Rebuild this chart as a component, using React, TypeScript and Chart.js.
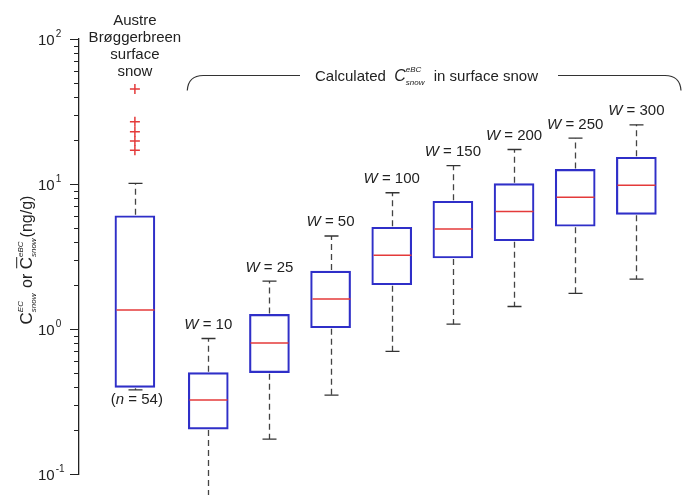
import React, { useEffect, useRef } from "react";
import { Chart, registerables } from "chart.js";

Chart.register(...registerables);

// ---- data ----
const wValues = [10, 25, 50, 100, 150, 200, 250, 300];
const xPositions = [0, 1.2, 2.2, 3.2, 4.2, 5.2, 6.2, 7.2, 8.2];
const whiskerLow = [0.38, 0.07, 0.174, 0.35, 0.7, 1.08, 1.43, 1.76, 2.21];
const q1 = [0.396, 0.204, 0.5, 1.02, 2.02, 3.09, 4.06, 5.11, 6.18];
const median = [1.35, 0.324, 0.8, 1.61, 3.22, 4.9, 6.47, 8.1, 9.8];
const q3 = [6.04, 0.5, 1.26, 2.51, 5.03, 7.6, 10.05, 12.6, 15.3];
const whiskerHigh = [10.1, 0.86, 2.14, 4.38, 8.7, 13.4, 17.3, 20.7, 25.6];
const outliers = [45.2, 26.9, 22.9, 19.8, 17.1];
const yMajorTicks = [0.1, 1, 10, 100];
const yTickExponents = ["-1", "0", "1", "2"];
const sampleLabelLines = ["Austre", "Brøggerbreen", "surface", "snow"];
const sampleCount = 54;

const X_MIN = -0.914;
const X_MAX = 8.84;

const FONT = '"Liberation Sans", Arial, Helvetica, sans-serif';
const TEXT = "#222";
const BOX = "#2f2fc8";
const RED = "#e43a3a";
const WHISK = "#444";

type Part = { text?: string; size: number; italic?: boolean; sup?: string; sub?: string; over?: boolean };

const fnt = (size: number, italic?: boolean) => `${italic ? "italic " : ""}${size}px ${FONT}`;

function partWidth(ctx: CanvasRenderingContext2D, p: Part) {
  if (p.sup !== undefined) {
    ctx.font = fnt(p.size, true);
    return Math.max(ctx.measureText(p.sup).width, ctx.measureText(p.sub || "").width) + 1;
  }
  ctx.font = fnt(p.size, p.italic);
  return ctx.measureText(p.text || "").width;
}

function drawParts(ctx: CanvasRenderingContext2D, parts: Part[], x: number, baseline: number, align: "left" | "center", supUp = 9, subDown = 4) {
  const total = parts.reduce((s, p) => s + partWidth(ctx, p), 0);
  let cx = align === "center" ? x - total / 2 : x;
  ctx.textAlign = "left";
  ctx.textBaseline = "alphabetic";
  ctx.fillStyle = TEXT;
  for (const p of parts) {
    const w = partWidth(ctx, p);
    if (p.sup !== undefined) {
      ctx.font = fnt(p.size, true);
      ctx.fillText(p.sup, cx, baseline - supUp);
      ctx.fillText(p.sub || "", cx, baseline + subDown);
    } else {
      ctx.font = fnt(p.size, p.italic);
      ctx.fillText(p.text || "", cx, baseline);
      if (p.over) {
        ctx.save();
        ctx.strokeStyle = TEXT;
        ctx.lineWidth = 1;
        ctx.beginPath();
        const yy = baseline - p.size * 0.9;
        ctx.moveTo(cx + 1, yy);
        ctx.lineTo(cx + w, yy);
        ctx.stroke();
        ctx.restore();
      }
    }
    cx += w;
  }
}

const boxPlugin = {
  id: "boxExtras",
  afterDatasetsDraw(chart: any) {
    const ctx: CanvasRenderingContext2D = chart.ctx;
    const xs = chart.scales.x;
    const ys = chart.scales.y;
    ctx.save();
    for (let i = 0; i < xPositions.length; i++) {
      const x = Math.round(xs.getPixelForValue(xPositions[i])) + 0.5;
      const yHi = ys.getPixelForValue(whiskerHigh[i]);
      const yQ3 = ys.getPixelForValue(q3[i]);
      const yQ1 = ys.getPixelForValue(q1[i]);
      const yLo = ys.getPixelForValue(whiskerLow[i]);
      const yMed = ys.getPixelForValue(median[i]);
      // dashed whiskers
      ctx.strokeStyle = WHISK;
      ctx.lineWidth = 1.3;
      ctx.setLineDash([6, 4]);
      ctx.beginPath();
      ctx.moveTo(x, yQ3 - 1);
      ctx.lineTo(x, yHi);
      ctx.moveTo(x, yQ1 + 1);
      ctx.lineTo(x, yLo);
      ctx.stroke();
      ctx.setLineDash([]);
      // caps
      ctx.strokeStyle = "#333";
      ctx.beginPath();
      ctx.moveTo(x - 7, yHi);
      ctx.lineTo(x + 7, yHi);
      ctx.moveTo(x - 7, yLo);
      ctx.lineTo(x + 7, yLo);
      ctx.stroke();
      // median
      ctx.strokeStyle = RED;
      ctx.lineWidth = 1.5;
      ctx.beginPath();
      ctx.moveTo(x - 19, yMed);
      ctx.lineTo(x + 19, yMed);
      ctx.stroke();
    }
    ctx.restore();
  },
  afterDraw(chart: any) {
    const ctx: CanvasRenderingContext2D = chart.ctx;
    const xs = chart.scales.x;
    const ys = chart.scales.y;
    const axisX = chart.chartArea.left;
    ctx.save();
    // y ticks
    ctx.strokeStyle = "#222";
    ctx.lineWidth = 1.2;
    ctx.beginPath();
    for (let d = 0; d < yMajorTicks.length; d++) {
      const base = yMajorTicks[d];
      const y = Math.round(ys.getPixelForValue(base)) + 0.5;
      ctx.moveTo(axisX - 9, y);
      ctx.lineTo(axisX, y);
      if (d < yMajorTicks.length - 1) {
        for (let m = 2; m <= 9; m++) {
          const ym = Math.round(ys.getPixelForValue(base * m)) + 0.5;
          ctx.moveTo(axisX - 5, ym);
          ctx.lineTo(axisX, ym);
        }
      }
    }
    ctx.stroke();
    // y tick labels
    ctx.fillStyle = TEXT;
    ctx.textBaseline = "alphabetic";
    ctx.textAlign = "left";
    for (let d = 0; d < yMajorTicks.length; d++) {
      const y = ys.getPixelForValue(yMajorTicks[d]);
      ctx.font = fnt(15);
      ctx.fillText("10", 38, y + 5.5);
      const w = ctx.measureText("10").width;
      ctx.font = fnt(10);
      ctx.fillText(yTickExponents[d], 38 + w + 1, y - 2);
    }
    // y title (rotated)
    ctx.save();
    ctx.translate(26, 260);
    ctx.rotate(-Math.PI / 2);
    drawParts(
      ctx,
      [
        { text: "C", size: 17 },
        { sup: "EC", sub: "snow", size: 8 },
        { text: " or ", size: 16 },
        { text: "C", size: 17, over: true },
        { sup: "eBC", sub: "snow", size: 8 },
        { text: "(ng/g)", size: 16 },
      ],
      0,
      6,
      "center",
      9,
      4
    );
    ctx.restore();

    // sample label
    const x0 = xs.getPixelForValue(xPositions[0]);
    ctx.fillStyle = TEXT;
    ctx.font = fnt(15);
    ctx.textAlign = "center";
    ctx.textBaseline = "middle";
    sampleLabelLines.forEach((t, i) => ctx.fillText(t, x0, 21 + i * 17));
    drawParts(
      ctx,
      [
        { text: "(", size: 15 },
        { text: "n", size: 15, italic: true },
        { text: " = " + sampleCount + ")", size: 15 },
      ],
      x0 + 2,
      404,
      "center"
    );

    // W labels
    for (let i = 0; i < wValues.length; i++) {
      const xi = xs.getPixelForValue(xPositions[i + 1]);
      const yi = ys.getPixelForValue(whiskerHigh[i + 1]) - 15;
      drawParts(
        ctx,
        [
          { text: "W", size: 15, italic: true },
          { text: " = " + wValues[i], size: 15 },
        ],
        xi,
        yi + 5.5,
        "center"
      );
    }

    // bracket
    const bx1 = xs.getPixelForValue(xPositions[1]) - 21;
    const bx2 = chart.width - 1;
    const by = 75.5;
    ctx.strokeStyle = "#333";
    ctx.lineWidth = 1.2;
    ctx.beginPath();
    ctx.moveTo(bx1, by + 15);
    ctx.quadraticCurveTo(bx1 + 1, by, bx1 + 16, by);
    ctx.lineTo(300, by);
    ctx.moveTo(558, by);
    ctx.lineTo(bx2 - 16, by);
    ctx.quadraticCurveTo(bx2 - 1, by, bx2, by + 15);
    ctx.stroke();
    drawParts(
      ctx,
      [
        { text: "Calculated  ", size: 15 },
        { text: "C", size: 16, italic: true },
        { sup: "eBC", sub: "snow", size: 8 },
        { text: "  in surface snow", size: 15 },
      ],
      315,
      81,
      "left",
      9,
      4
    );
    ctx.restore();
  },
};

export default function App() {
  const ref = useRef<HTMLCanvasElement | null>(null);
  useEffect(() => {
    if (!ref.current) return;
    const chart = new Chart(ref.current, {
      type: "bar",
      data: {
        datasets: [
          {
            type: "bar",
            data: xPositions.map((x, i) => ({ x, y: [q1[i], q3[i]] })) as any,
            backgroundColor: "rgba(255,255,255,0)",
            borderColor: BOX,
            borderWidth: 1.5,
            borderSkipped: false,
            barThickness: 40,
          } as any,
          {
            type: "scatter",
            data: outliers.map((v) => ({ x: xPositions[0], y: v })),
            pointStyle: "cross",
            radius: 5,
            borderColor: RED,
            borderWidth: 1.5,
            showLine: false,
          } as any,
        ],
      },
      options: {
        animation: false,
        responsive: false,
        maintainAspectRatio: false,
        layout: { padding: { top: 39, bottom: 21, left: 0, right: 0 } },
        plugins: { legend: { display: false }, tooltip: { enabled: false } },
        scales: {
          x: { type: "linear", min: X_MIN, max: X_MAX, display: false, offset: false },
          y: {
            type: "logarithmic",
            min: 0.1,
            max: 100,
            grid: { display: false },
            ticks: { display: false },
            border: { display: true, color: "#222", width: 1.3 },
            afterFit: (s: any) => {
              s.width = 79;
            },
          } as any,
        },
      },
      plugins: [boxPlugin],
    });
    return () => chart.destroy();
  }, []);
  return (
    <div style={{ position: "fixed", left: 0, top: 0, width: 682, height: 495, background: "#fff" }}>
      <canvas ref={ref} width={682} height={495} style={{ width: 682, height: 495, display: "block" }} />
    </div>
  );
}
